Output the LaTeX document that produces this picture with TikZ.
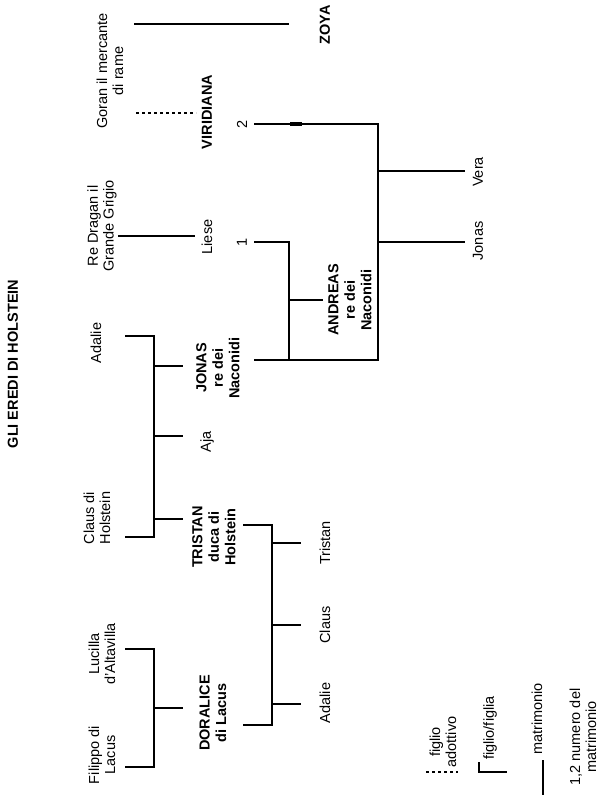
\documentclass[tikz,border=0pt]{standalone}
\usepackage{fontspec}
\setmainfont{Liberation Sans}
\begin{document}
\begin{tikzpicture}[x=1pt,y=-1pt,
  every node/.style={inner sep=0pt,outer sep=0pt,rotate=90,align=center,font=\fontsize{14.5}{16}\selectfont},
  bold/.style={font=\fontsize{14.5}{16.5}\selectfont\bfseries},
  tline/.style={line width=2.6pt,line cap=butt},
  adopt/.style={line width=1.6pt,dash pattern=on 3pt off 3pt},
]
\useasboundingbox (0,0) rectangle (600,798);
\fill[white] (0,0) rectangle (600,798);

% title
\node[bold] (title) at (13,364) {GLI EREDI DI HOLSTEIN};

% people
\node (goran) at (110,71) {Goran il mercante\\di rame};
\node[bold] (zoya) at (325,25) {ZOYA};
\node[bold] (viridiana) at (207,112) {VIRIDIANA};
\node (num2) at (242,124) {2};
\node (dragan) at (102,226) {Re Dragan il\\Grande Grigio};
\node (liese) at (207,237) {Liese};
\node (num1) at (242,242) {1};
\node (vera) at (478,172) {Vera};
\node (jonasjr) at (478,241) {Jonas};
\node[bold] (andreas) at (350,300) {ANDREAS\\re dei\\Naconidi};
\node[bold] (jonas) at (218,368) {JONAS\\re dei\\Naconidi};
\node (adalie) at (96,343) {Adalie};
\node (aja) at (207,442) {Aja};
\node (claus) at (97,518) {Claus di\\Holstein};
\node[bold] (tristan) at (214,537) {TRISTAN\\duca di\\Holstein};
\node (tristanjr) at (325,543) {Tristan};
\node (clausjr) at (325,625) {Claus};
\node (adaliejr) at (325,703) {Adalie};
\node[bold] (doralice) at (213,713) {DORALICE\\di Lacus};
\node (lucilla) at (102,654) {Lucilla\\d'Altavilla};
\node (filippo) at (102,755) {Filippo di\\Lacus};

% junction coordinates
\coordinate (zL) at (134,24);   \coordinate (zR) at (289,24);
\coordinate (gA) at (136,113);  \coordinate (gB) at (196,113);
\coordinate (m2a) at (254,124); \coordinate (m2b) at (378,124);
\coordinate (mB) at (378,360);  \coordinate (mA) at (254,360);
\coordinate (veraJ) at (378,171); \coordinate (veraE) at (465,171);
\coordinate (jonJ) at (378,242);  \coordinate (jonE) at (465,242);
\coordinate (dA) at (118,236);  \coordinate (dB) at (195,236);
\coordinate (m1a) at (254,242); \coordinate (m1b) at (289,242);
\coordinate (m1c) at (289,360);
\coordinate (anJ) at (289,300); \coordinate (anE) at (323,300);
\coordinate (adA) at (125,336); \coordinate (adB) at (154,336);
\coordinate (clB) at (154,537); \coordinate (clA) at (125,537);
\coordinate (joJ) at (154,366); \coordinate (joE) at (183,366);
\coordinate (ajJ) at (154,436); \coordinate (ajE) at (183,436);
\coordinate (trJ) at (154,519); \coordinate (trE) at (183,519);
\coordinate (tA) at (243,525);  \coordinate (tB) at (272,525);
\coordinate (dorB) at (272,725); \coordinate (dorA) at (243,725);
\coordinate (c1J) at (272,543); \coordinate (c1E) at (301,543);
\coordinate (c2J) at (272,625); \coordinate (c2E) at (301,625);
\coordinate (c3J) at (272,704); \coordinate (c3E) at (301,704);
\coordinate (luA) at (125,649); \coordinate (luB) at (154,649);
\coordinate (fiB) at (154,767); \coordinate (fiA) at (125,767);
\coordinate (doJ) at (154,708); \coordinate (doE) at (183,708);

% connectors
\draw[tline] (zL) -- (zR);
\draw[adopt] (gA) -- (gB);
\draw[tline] (m2a) -- (m2b) -- (mB) -- (mA);
\draw[line width=4pt] (290,124) -- (302,124);
\draw[tline] (veraJ) -- (veraE);
\draw[tline] (jonJ) -- (jonE);
\draw[tline] (dA) -- (dB);
\draw[tline] (m1a) -- (m1b) -- (m1c);
\draw[tline] (anJ) -- (anE);
\draw[tline] (adA) -- (adB) -- (clB) -- (clA);
\draw[tline] (joJ) -- (joE);
\draw[tline] (ajJ) -- (ajE);
\draw[tline] (trJ) -- (trE);
\draw[tline] (tA) -- (tB) -- (dorB) -- (dorA);
\draw[tline] (c1J) -- (c1E);
\draw[tline] (c2J) -- (c2E);
\draw[tline] (c3J) -- (c3E);
\draw[tline] (luA) -- (luB) -- (fiB) -- (fiA);
\draw[tline] (doJ) -- (doE);

% legend
\node (lgAdopt) at (443,742) {figlio\\adottivo};
\coordinate (lgA1) at (426,772); \coordinate (lgA2) at (458,772);
\draw[adopt] (lgA1) -- (lgA2);
\node (lgChild) at (490,728) {figlio/figlia};
\coordinate (lgC0) at (479,762); \coordinate (lgC1) at (479,773); \coordinate (lgC2) at (507,772);
\draw[tline] (lgC0) -- (lgC1);
\draw[tline] (479,772) -- (lgC2);
\node (lgMar) at (537,719) {matrimonio};
\coordinate (lgM1) at (543,760); \coordinate (lgM2) at (543,795);
\draw[tline] (lgM1) -- (lgM2);
\node (lgNum) at (583,737) {1,2 numero del\\matrimonio};
\end{tikzpicture}
\end{document}
